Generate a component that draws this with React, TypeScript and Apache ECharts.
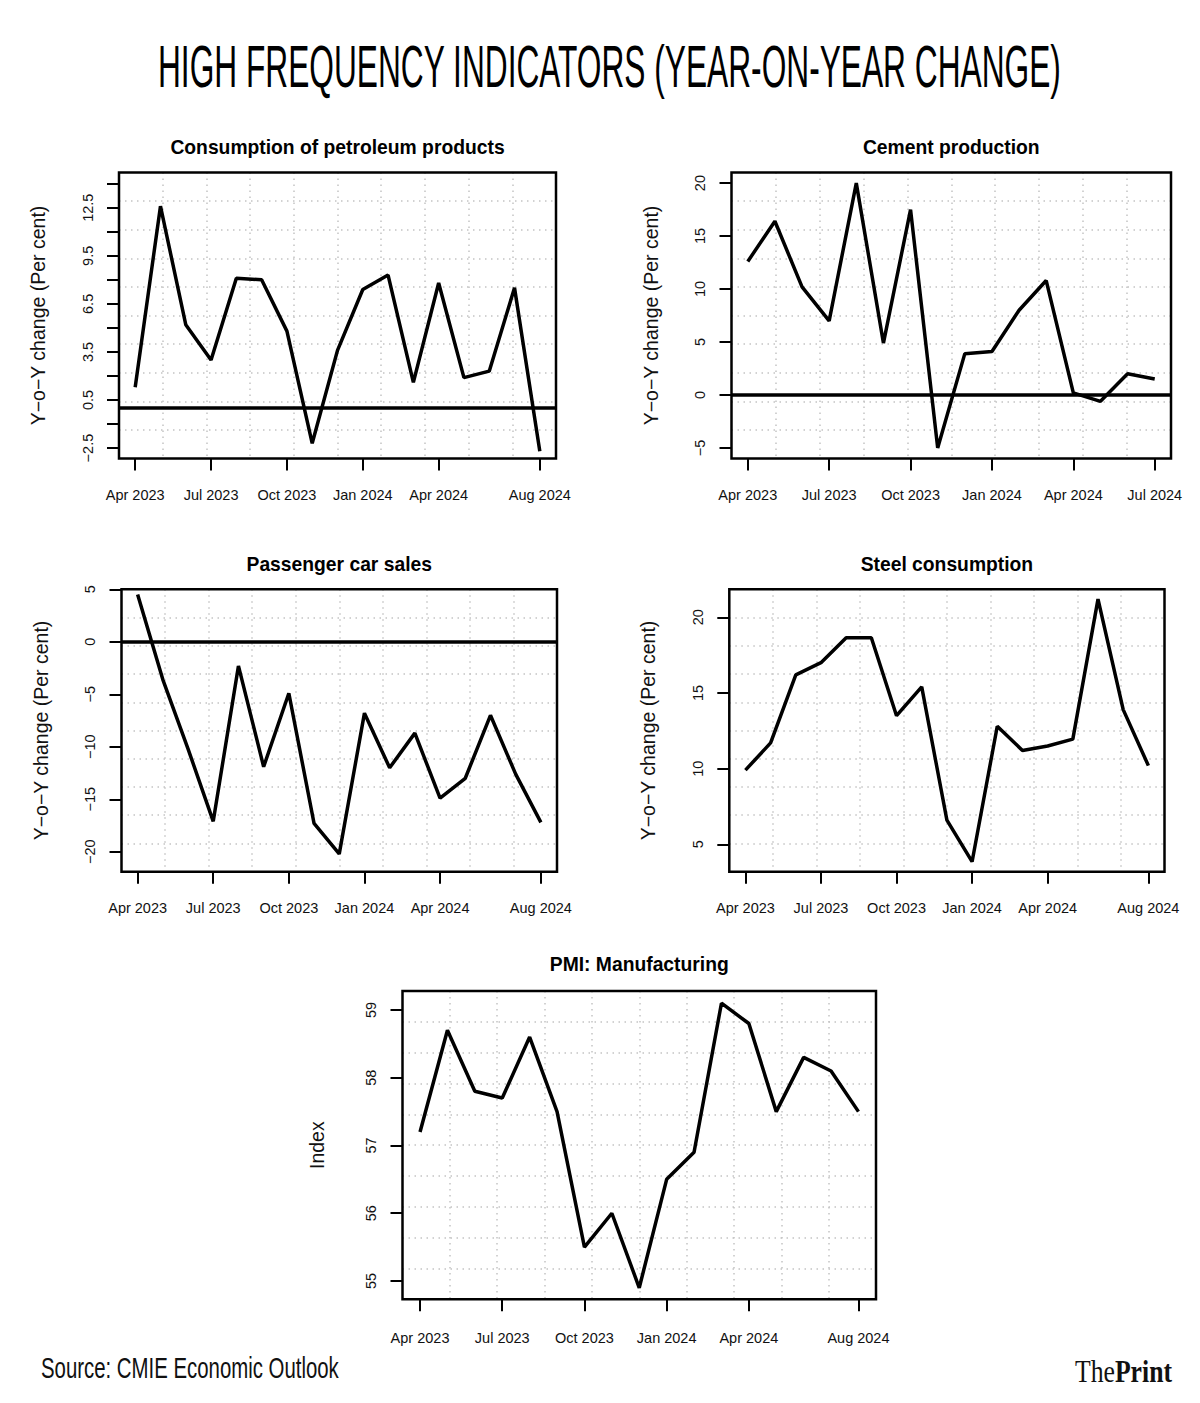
import React, { useEffect, useRef } from 'react';
import * as echarts from 'echarts';

// ---------- Data ----------
const months = [
  'Apr 2023', 'May 2023', 'Jun 2023', 'Jul 2023', 'Aug 2023', 'Sep 2023', 'Oct 2023', 'Nov 2023',
  'Dec 2023', 'Jan 2024', 'Feb 2024', 'Mar 2024', 'Apr 2024', 'May 2024', 'Jun 2024', 'Jul 2024', 'Aug 2024',
];
const xTicksAug = [0, 3, 6, 9, 12, 16];
const xTicksJul = [0, 3, 6, 9, 12, 15];

const petroleum = [1.3, 12.6, 5.2, 3.0, 8.1, 8.0, 4.8, -2.2, 3.6, 7.4, 8.3, 1.6, 7.8, 1.9, 2.3, 7.5, -2.7];
const cement = [12.6, 16.4, 10.2, 7.0, 20.0, 4.9, 17.5, -5.0, 3.9, 4.1, 8.0, 10.8, 0.2, -0.6, 2.0, 1.5];
const passengerCars = [4.5, -3.6, -10.2, -17.1, -2.3, -11.9, -4.9, -17.3, -20.2, -6.8, -12.0, -8.7, -14.9, -13.0, -7.0, -12.6, -17.2];
const steel = [9.9, 11.7, 16.2, 17.0, 18.65, 18.65, 13.5, 15.4, 6.6, 3.85, 12.8, 11.2, 11.5, 11.95, 21.2, 13.9, 10.2];
const pmi = [57.2, 58.7, 57.8, 57.7, 58.6, 57.5, 55.5, 56.0, 54.9, 56.5, 56.9, 59.1, 58.8, 57.5, 58.3, 58.1, 57.5];

const petroleumTicks = [-2.5, -1, 0.5, 2, 3.5, 5, 6.5, 8, 9.5, 11, 12.5, 14];
const petroleumLabels = [-2.5, 0.5, 3.5, 6.5, 9.5, 12.5];
const cementTicks = [-5, 0, 5, 10, 15, 20];
const carTicks = [-20, -15, -10, -5, 0, 5];
const steelTicks = [5, 10, 15, 20];
const pmiTicks = [55, 56, 57, 58, 59];

const mainTitle = 'HIGH FREQUENCY INDICATORS (YEAR-ON-YEAR CHANGE)';
const sourceText = 'Source: CMIE Economic Outlook';
const yoyName = 'Y\u2212o\u2212Y change (Per cent)';

// ---------- Layout ----------
const FONT = "'Liberation Sans', Arial, Helvetica, sans-serif";
const SERIF = "'Liberation Serif', 'Times New Roman', serif";

type Panel = {
  title: string; yName: string; data: number[]; xTicks: number[]; yTicks: number[]; yLabels: number[];
  zero: boolean; left: number; top: number; width: number; height: number;
  xMin: number; xMax: number; yMin: number; yMax: number; titleY: number; nameGap: number; xMargin: number;
};

const panels: Panel[] = [
  { title: 'Consumption of petroleum products', yName: yoyName, data: petroleum, xTicks: xTicksAug,
    yTicks: petroleumTicks, yLabels: petroleumLabels, zero: true,
    left: 119, top: 172.5, width: 437, height: 286, xMin: -0.64, xMax: 16.64, yMin: -3.15, yMax: 14.7, titleY: 147, nameGap: 71, xMargin: 29 },
  { title: 'Cement production', yName: yoyName, data: cement, xTicks: xTicksJul,
    yTicks: cementTicks, yLabels: cementTicks, zero: true,
    left: 731.5, top: 172.5, width: 439.5, height: 286, xMin: -0.6, xMax: 15.6, yMin: -6, yMax: 21, titleY: 147, nameGap: 71, xMargin: 29 },
  { title: 'Passenger car sales', yName: yoyName, data: passengerCars, xTicks: xTicksAug,
    yTicks: carTicks, yLabels: carTicks, zero: true,
    left: 121.5, top: 589.3, width: 435.5, height: 282.4, xMin: -0.64, xMax: 16.64, yMin: -21.9, yMax: 5.0, titleY: 564, nameGap: 71, xMargin: 29 },
  { title: 'Steel consumption', yName: yoyName, data: steel, xTicks: xTicksAug,
    yTicks: steelTicks, yLabels: steelTicks, zero: false,
    left: 729.3, top: 589.3, width: 435.2, height: 282.4, xMin: -0.64, xMax: 16.64, yMin: 3.19, yMax: 21.85, titleY: 564, nameGap: 71, xMargin: 29 },
  { title: 'PMI: Manufacturing', yName: 'Index', data: pmi, xTicks: xTicksAug,
    yTicks: pmiTicks, yLabels: pmiTicks, zero: false,
    left: 402.5, top: 991, width: 473.5, height: 308.3, xMin: -0.64, xMax: 16.64, yMin: 54.73, yMax: 59.28, titleY: 964, nameGap: 76, xMargin: 31 },
];

function measure(text: string, font: string): number {
  const c = document.createElement('canvas').getContext('2d');
  if (!c) return text.length * 10;
  c.font = font;
  return c.measureText(text).width;
}

const fmtNum = (v: number) => String(v).replace('-', '\u2212');

export default function App() {
  const ref = useRef<HTMLDivElement>(null);

  useEffect(() => {
    document.body.style.margin = '0';
    if (!ref.current) return;
    const chart = echarts.init(ref.current, null, { renderer: 'svg' });

    const grids = panels.map((p) => ({
      left: p.left, top: p.top, width: p.width, height: p.height,
      show: true, borderColor: '#000', borderWidth: 2.5, backgroundColor: 'transparent',
      containLabel: false, outerBoundsMode: 'none', z: 3,
    }));

    const gridLine = {
      show: true, showMinLine: false, showMaxLine: false,
      lineStyle: { color: '#c4c4c4', width: 1.5, type: [1.5, 4.5] },
    };

    const xAxes: any[] = panels.map((p, i) => ({
      type: 'value', gridIndex: i, min: p.xMin, max: p.xMax,
      axisLine: { show: false, onZero: false },
      splitLine: { show: false },
      axisTick: { show: true, length: 12, lineStyle: { color: '#000', width: 2 }, customValues: p.xTicks },
      axisLabel: {
        show: true, customValues: p.xTicks, formatter: (v: number) => months[Math.round(v)] ?? '',
        fontSize: 14.5, color: '#111', fontFamily: FONT, margin: p.xMargin,
      },
    }));
    const yAxes: any[] = panels.map((p, i) => ({
      type: 'value', gridIndex: i, min: p.yMin, max: p.yMax,
      axisLine: { show: false, onZero: false },
      splitLine: { show: false },
      axisTick: { show: true, length: 12, lineStyle: { color: '#000', width: 2 }, customValues: p.yTicks },
      axisLabel: {
        show: true, customValues: p.yLabels, formatter: (v: number) => fmtNum(v), rotate: 90,
        fontSize: 14.5, color: '#111', fontFamily: FONT, margin: 24,
      },
      name: p.yName, nameLocation: 'middle', nameRotate: 90, nameGap: p.nameGap,
      nameTextStyle: { fontSize: 19.5, color: '#111', fontFamily: FONT },
    }));
    // Dotted reference grid: 10 equal divisions of each plotting box
    panels.forEach((_, i) => {
      xAxes.push({
        type: 'value', gridIndex: i, min: 0, max: 10, interval: 1, position: 'top',
        axisLine: { show: false, onZero: false }, axisTick: { show: false }, axisLabel: { show: false },
        splitLine: gridLine,
      });
      yAxes.push({
        type: 'value', gridIndex: i, min: 0, max: 10, interval: 1, position: 'right',
        axisLine: { show: false, onZero: false }, axisTick: { show: false }, axisLabel: { show: false },
        splitLine: gridLine,
      });
    });

    const series: any[] = panels.map((p, i) => ({
      type: 'line', name: p.title, xAxisIndex: i, yAxisIndex: i,
      data: p.data.map((v, k) => [k, v]),
      symbol: 'none', showSymbol: false, z: 4,
      lineStyle: { color: '#000', width: 3.5 },
      markLine: p.zero ? {
        silent: true, symbol: 'none', label: { show: false },
        lineStyle: { color: '#000', width: 3.5, type: 'solid' },
        data: [{ yAxis: 0 }],
      } : undefined,
    }));

    // Text sizing for condensed header/footer fonts
    const titleSize = 60;
    const titleW = measure(mainTitle, `${titleSize}px ${FONT}`);
    const titleScale = 904 / titleW;
    const srcSize = 29;
    const srcW = measure(sourceText, `${srcSize}px ${FONT}`);
    const srcScale = 298 / srcW;
    const logoSize = 31;
    const logoW = measure('The', `${logoSize}px ${SERIF}`) + measure('Print', `bold ${logoSize}px ${SERIF}`);
    const logoScale = 97 / logoW;

    const graphic: any[] = [
      {
        type: 'text', x: 158, y: 66, scaleX: titleScale,
        style: { text: mainTitle, fontSize: titleSize, fontFamily: FONT, fill: '#000',
          align: 'left', verticalAlign: 'middle', textAlign: 'left', textVerticalAlign: 'middle' },
      },
      {
        type: 'text', x: 41, y: 1368, scaleX: srcScale,
        style: { text: sourceText, fontSize: srcSize, fontFamily: FONT, fill: '#111',
          align: 'left', verticalAlign: 'middle', textAlign: 'left', textVerticalAlign: 'middle' },
      },
      {
        type: 'text', x: 1172, y: 1372, scaleX: logoScale,
        style: {
          text: '{a|The}{b|Print}', fill: '#111', align: 'right', verticalAlign: 'middle',
          textAlign: 'right', textVerticalAlign: 'middle',
          rich: {
            a: { fontSize: logoSize, fontFamily: SERIF, fill: '#111' },
            b: { fontSize: logoSize, fontFamily: SERIF, fontWeight: 'bold', fill: '#111' },
          },
        },
      },
      ...panels.map((p) => ({
        type: 'text', x: p.left + p.width / 2, y: p.titleY,
        style: { text: p.title, fontSize: 19.3, fontWeight: 'bold', fontFamily: FONT, fill: '#000',
          align: 'center', verticalAlign: 'middle', textAlign: 'center', textVerticalAlign: 'middle' },
      })),
    ];

    chart.setOption({
      animation: false,
      backgroundColor: '#fff',
      grid: grids,
      xAxis: xAxes,
      yAxis: yAxes,
      series,
      graphic,
    });
    return () => chart.dispose();
  }, []);

  return <div ref={ref} style={{ width: 1200, height: 1403, background: '#fff' }} />;
}
